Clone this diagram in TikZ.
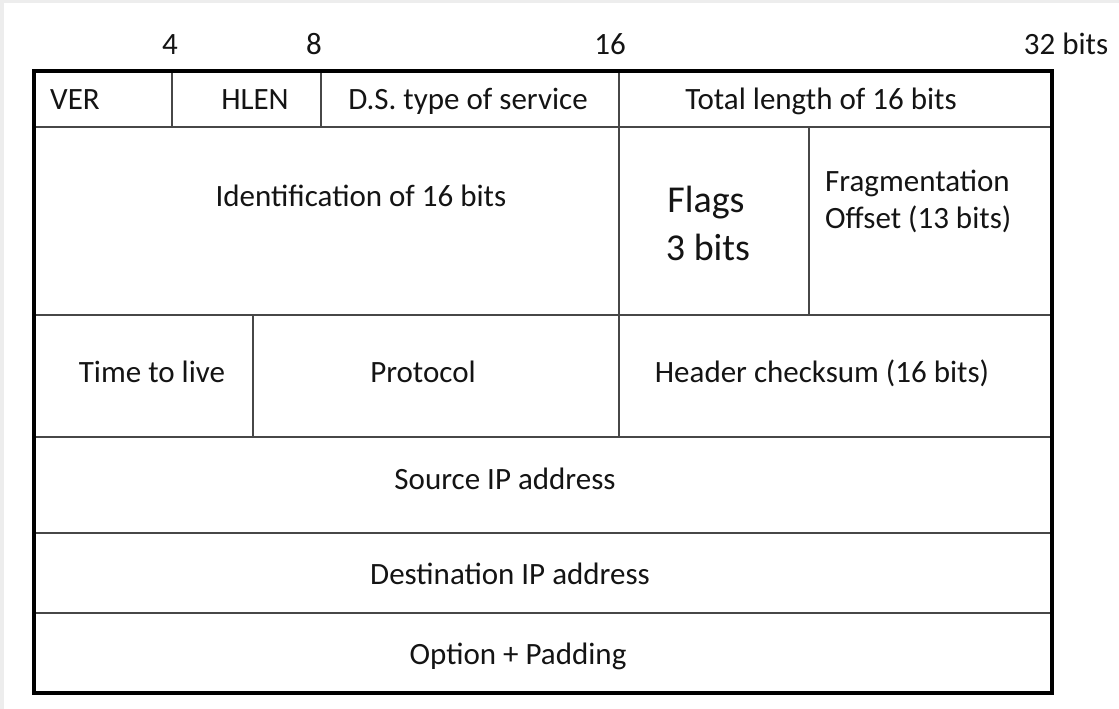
\documentclass[tikz,border=0pt]{standalone}
\usepackage{fontspec}
\setmainfont{Carlito}
\begin{document}
\begin{tikzpicture}[x=1pt,y=-1pt,
  inner/.style={line width=1.8pt,draw=black!72},
  outer/.style={line width=4pt,draw=black},
  lbl/.style={inner sep=0pt,anchor=base,text=black!92,font=\fontsize{31}{37}\selectfont},
  lblw/.style={lbl,anchor=base west},
  big/.style={lbl,font=\fontsize{38}{46}\selectfont}]
\useasboundingbox (0,0) rectangle (1119,709);
\fill[black!7] (0,0) rectangle (1119,709);
\fill[white] (4,3) rectangle (1119,709);
% inner grid
\draw[inner] (34,127) -- (1052,127);
\draw[inner] (34,315) -- (1052,315);
\draw[inner] (34,437) -- (1052,437);
\draw[inner] (34,533) -- (1052,533);
\draw[inner] (34,613) -- (1052,613);
\draw[inner] (172,71) -- (172,127);
\draw[inner] (321,71) -- (321,127);
\draw[inner] (619,71) -- (619,437);
\draw[inner] (809,127) -- (809,315);
\draw[inner] (253,315) -- (253,437);
\draw[outer] (34,71) rectangle (1052,693);
% bit scale
\node[lbl] (b4) at (170,55) {4};
\node[lbl] (b8) at (314,55) {8};
\node[lbl] (b16) at (610,55) {16};
\node[lbl] (b32) at (1066,55) {32 bits};
% row 1
\node[lblw] (ver) at (50,110) {VER};
\node[lbl] (hlen) at (255,110) {HLEN};
\node[lbl] (ds) at (468,110) {D.S. type of service};
\node[lbl] (tl) at (821,110) {Total length of 16 bits};
% row 2
\node[lbl] (id) at (361,206) {Identification of 16 bits};
\node[big] (flags) at (706,212) {Flags};
\node[big] (fbits) at (708,260) {3 bits};
\node[lblw] (frag) at (825,191) {Fragmentation};
\node[lblw] (off) at (825,228) {Offset (13 bits)};
% row 3
\node[lbl] (ttl) at (152,382) {Time to live};
\node[lbl] (proto) at (423,382) {Protocol};
\node[lbl] (chk) at (822,382) {Header checksum (16 bits)};
% rows 4-6
\node[lbl] (src) at (505,489) {Source IP address};
\node[lbl] (dst) at (510,584) {Destination IP address};
\node[lbl] (opt) at (518,664) {Option + Padding};
\end{tikzpicture}
\end{document}
